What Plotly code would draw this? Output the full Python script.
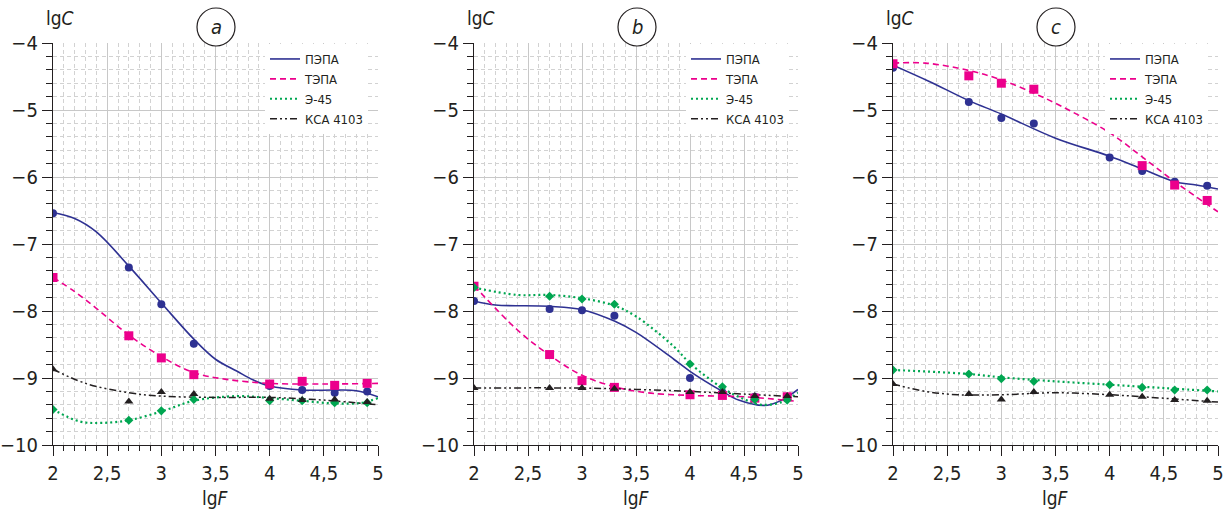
import plotly.graph_objects as go

# ---------------- data ----------------
series_names = ["ПЭПА", "ТЭПА", "Э-45", "КСА 4103"]
panel_letters = ["a", "b", "c"]

x_points = [2.0, 2.7, 3.0, 3.3, 4.0, 4.3, 4.6, 4.9]

# panel a measured points
a_pepa = [-6.54, -7.35, -7.90, -8.49, -9.12, -9.18, -9.22, -9.20]
a_tepa = [-7.50, -8.37, -8.70, -8.95, -9.09, -9.05, -9.11, -9.08]
a_e45 = [-9.47, -9.63, -9.49, -9.32, -9.34, -9.34, -9.37, -9.37]
a_ksa = [-8.87, -9.35, -9.21, -9.24, -9.31, -9.33, -9.32, -9.36]
# panel b measured points
b_pepa = [-7.85, -7.97, -7.99, -8.07, -9.00, -9.22, -9.28, -9.28]
b_tepa = [-7.63, -8.65, -9.04, -9.14, -9.25, -9.26, -9.30, -9.28]
b_e45 = [-7.65, -7.78, -7.82, -7.90, -8.79, -9.13, -9.32, -9.33]
b_ksa = [-9.15, -9.15, -9.15, -9.16, -9.21, -9.21, -9.27, -9.27]
# panel c measured points
c_pepa = [-4.37, -4.88, -5.12, -5.20, -5.71, -5.91, -6.07, -6.13]
c_tepa = [-4.31, -4.49, -4.60, -4.69, -5.24, -5.83, -6.12, -6.35]
c_e45 = [-8.88, -8.94, -9.01, -9.05, -9.10, -9.14, -9.18, -9.18]
c_ksa = [-9.09, -9.24, -9.32, -9.21, -9.25, -9.28, -9.33, -9.34]

# fitted curves
a_pepa_fit_x = [2.0, 2.2, 2.4, 2.7, 3.0, 3.3, 3.5, 3.7, 3.85, 4.0, 4.3, 4.6, 4.8, 5.0]
a_pepa_fit_y = [-6.53, -6.62, -6.82, -7.33, -7.88, -8.42, -8.72, -8.90, -9.03, -9.12, -9.18, -9.18, -9.19, -9.28]
a_tepa_fit_x = [2.0, 2.2, 2.4, 2.7, 3.0, 3.3, 3.6, 4.0, 4.5, 5.0]
a_tepa_fit_y = [-7.50, -7.71, -7.96, -8.36, -8.68, -8.92, -9.02, -9.08, -9.09, -9.08]
a_e45_fit_x = [2.0, 2.25, 2.45, 2.7, 3.0, 3.3, 3.7, 4.0, 4.3, 4.6, 4.85, 5.0]
a_e45_fit_y = [-9.47, -9.65, -9.67, -9.63, -9.50, -9.34, -9.27, -9.30, -9.34, -9.38, -9.37, -9.30]
a_ksa_fit_x = [2.0, 2.3, 2.7, 3.0, 3.5, 4.0, 4.5, 5.0]
a_ksa_fit_y = [-8.87, -9.08, -9.22, -9.27, -9.29, -9.29, -9.33, -9.40]

b_pepa_fit_x = [2.0, 2.2, 2.7, 3.0, 3.3, 3.5, 3.85, 4.0, 4.3, 4.45, 4.7, 4.85, 5.0]
b_pepa_fit_y = [-7.85, -7.91, -7.93, -7.98, -8.15, -8.32, -8.72, -8.90, -9.20, -9.33, -9.41, -9.33, -9.17]
b_tepa_fit_x = [2.0, 2.4, 2.7, 3.0, 3.3, 3.6, 4.0, 4.5, 5.0]
b_tepa_fit_y = [-7.62, -8.28, -8.66, -8.96, -9.13, -9.22, -9.26, -9.28, -9.35]
b_e45_fit_x = [2.0, 2.4, 2.7, 3.0, 3.3, 3.5, 3.85, 4.0, 4.3, 4.52, 4.66, 4.85, 5.0]
b_e45_fit_y = [-7.65, -7.76, -7.76, -7.81, -7.92, -8.08, -8.53, -8.78, -9.15, -9.33, -9.40, -9.36, -9.22]
b_ksa_fit_x = [2.0, 3.0, 3.5, 4.0, 4.5, 5.0]
b_ksa_fit_y = [-9.15, -9.15, -9.17, -9.20, -9.24, -9.28]

c_pepa_fit_x = [2.0, 2.33, 2.7, 3.0, 3.5, 4.0, 4.3, 4.6, 4.8, 5.0]
c_pepa_fit_y = [-4.33, -4.57, -4.86, -5.06, -5.42, -5.69, -5.88, -6.07, -6.12, -6.18]
c_tepa_fit_x = [2.0, 2.3, 2.7, 3.0, 3.3, 3.5, 4.0, 4.3, 4.6, 5.0]
c_tepa_fit_y = [-4.30, -4.30, -4.41, -4.55, -4.75, -4.90, -5.34, -5.70, -6.07, -6.52]
c_e45_fit_x = [2.0, 2.7, 3.0, 3.5, 4.0, 4.5, 5.0]
c_e45_fit_y = [-8.88, -8.94, -8.99, -9.05, -9.10, -9.15, -9.20]
c_ksa_fit_x = [2.0, 2.3, 2.6, 3.0, 3.5, 4.0, 4.3, 5.0]
c_ksa_fit_y = [-9.09, -9.20, -9.25, -9.25, -9.22, -9.25, -9.28, -9.36]

x_tick_vals = [2, 2.5, 3, 3.5, 4, 4.5, 5]
x_tick_text = ["2", "2,5", "3", "3,5", "4", "4,5", "5"]
y_tick_vals = [-4, -5, -6, -7, -8, -9, -10]
y_tick_text = ["−4", "−5", "−6", "−7", "−8", "−9", "−10"]

# ---------------- styles ----------------
FONT = "DejaVu Sans Condensed, Liberation Sans Narrow, Roboto, Liberation Sans, sans-serif"
colors = ["#2e3192", "#ec008c", "#00a651", "#231f20"]
dashes = ["solid", "6px,4px", "2px,3px", "7px,3px,2px,3px,2px,3px"]
widths = [1.6, 1.6, 2.2, 1.5]
symbols = ["circle", "square", "diamond", "triangle-up"]
msizes = [8, 9, 7, 8]

W, H = 1228, 512
panel_px = [(53, 378), (474, 798), (893, 1218)]
y_top_px, y_bot_px = 43, 445

panels = [
    ([a_pepa, a_tepa, a_e45, a_ksa],
     [(a_pepa_fit_x, a_pepa_fit_y), (a_tepa_fit_x, a_tepa_fit_y), (a_e45_fit_x, a_e45_fit_y), (a_ksa_fit_x, a_ksa_fit_y)]),
    ([b_pepa, b_tepa, b_e45, b_ksa],
     [(b_pepa_fit_x, b_pepa_fit_y), (b_tepa_fit_x, b_tepa_fit_y), (b_e45_fit_x, b_e45_fit_y), (b_ksa_fit_x, b_ksa_fit_y)]),
    ([c_pepa, c_tepa, c_e45, c_ksa],
     [(c_pepa_fit_x, c_pepa_fit_y), (c_tepa_fit_x, c_tepa_fit_y), (c_e45_fit_x, c_e45_fit_y), (c_ksa_fit_x, c_ksa_fit_y)]),
]

fig = go.Figure()
layout = dict(
    width=W, height=H, margin=dict(l=0, r=0, t=0, b=0, autoexpand=False),
    paper_bgcolor="white", plot_bgcolor="white",
    font=dict(family=FONT, color="#231f20"),
    annotations=[], shapes=[],
)

for p, (pts, fits) in enumerate(panels):
    sfx = "" if p == 0 else str(p + 1)
    xa, ya = "x" + sfx, "y" + sfx
    leg = "legend" + sfx
    for s in range(4):
        fx, fy = fits[s]
        fig.add_trace(go.Scatter(
            x=fx, y=fy, mode="lines", xaxis=xa, yaxis=ya,
            line=dict(color=colors[s], dash=dashes[s], width=widths[s], shape="spline", smoothing=1.0),
            showlegend=False, hoverinfo="skip"))
    for s in range(4):
        fig.add_trace(go.Scatter(
            x=x_points, y=pts[s], mode="markers", xaxis=xa, yaxis=ya,
            marker=dict(color=colors[s], symbol=symbols[s], size=msizes[s], line=dict(width=0)),
            showlegend=False))
    for s in range(4):
        fig.add_trace(go.Scatter(
            x=[None], y=[None], mode="lines", xaxis=xa, yaxis=ya, name=series_names[s],
            line=dict(color=colors[s], dash=dashes[s], width=widths[s]),
            legend=leg, showlegend=True))

    x0, x1 = panel_px[p]
    layout["xaxis" + sfx] = dict(
        domain=[x0 / W, x1 / W], anchor=ya, range=[2, 5], automargin=False,
        tickmode="array", tickvals=x_tick_vals, ticktext=x_tick_text,
        ticks="outside", ticklen=10, tickwidth=1, tickcolor="#231f20",
        showline=True, linecolor="#231f20", linewidth=1.3,
        showgrid=True, gridcolor="#c8c8c8", gridwidth=1.2, zeroline=False,
        tickfont=dict(size=20, family=FONT),
        minor=dict(dtick=0.1, tick0=2, ticks="outside", ticklen=5, tickcolor="#231f20",
                   showgrid=True, gridcolor="#d2d2d2", griddash="4px,3px", gridwidth=1),
    )
    layout["yaxis" + sfx] = dict(
        domain=[1 - y_bot_px / H, 1 - y_top_px / H], anchor=xa, range=[-10, -4], automargin=False,
        tickmode="array", tickvals=y_tick_vals, ticktext=y_tick_text,
        ticks="outside", ticklen=10, tickwidth=1, tickcolor="#231f20",
        showline=True, linecolor="#231f20", linewidth=1.3,
        showgrid=True, gridcolor="#c8c8c8", gridwidth=1.2, zeroline=False,
        tickfont=dict(size=20, family=FONT),
        minor=dict(dtick=0.2, tick0=-10, ticks="outside", ticklen=6, tickcolor="#231f20",
                   showgrid=True, gridcolor="#d2d2d2", griddash="4px,3px", gridwidth=1),
    )
    layout[leg] = dict(
        x=(x0 + 212) / W, y=1 - 44 / H, xanchor="left", yanchor="top",
        bgcolor="white", borderwidth=0, font=dict(size=13, family=FONT),
        itemwidth=30, tracegroupgap=0,
    )
    # axis titles
    layout["annotations"].append(dict(
        x=(x0 - 9) / W, y=1 - 18 / H, xref="paper", yref="paper", xanchor="left", yanchor="middle",
        text="lg<i>C</i>", showarrow=False, font=dict(size=19, family=FONT)))
    layout["annotations"].append(dict(
        x=(x0 + x1) / 2 / W, y=1 - 498 / H, xref="paper", yref="paper", xanchor="center", yanchor="middle",
        text="lg<i>F</i>", showarrow=False, font=dict(size=19, family=FONT)))
    # panel letter in a circle
    cx, cy, r = x0 + 163, 27, 19
    layout["shapes"].append(dict(
        type="circle", xref="paper", yref="paper",
        x0=(cx - r) / W, x1=(cx + r) / W, y0=1 - (cy + r) / H, y1=1 - (cy - r) / H,
        line=dict(color="#231f20", width=1.2), fillcolor="white"))
    layout["annotations"].append(dict(
        x=cx / W, y=1 - cy / H, xref="paper", yref="paper", xanchor="center", yanchor="middle",
        text="<i>" + panel_letters[p] + "</i>", showarrow=False, font=dict(size=20, family=FONT)))

fig.update_layout(**layout)
fig.write_html(
    "out.html",
    config={"displayModeBar": False},
    post_script="document.body.style.margin='0px';document.body.style.overflow='hidden';",
)
